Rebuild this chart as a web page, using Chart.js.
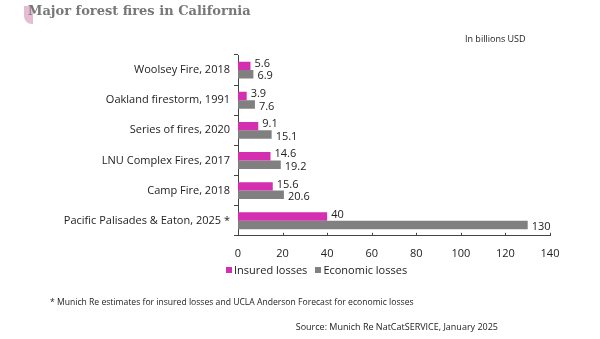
<!DOCTYPE html>
<html>
<head>
<meta charset="utf-8">
<script src="https://cdn.jsdelivr.net/npm/chart.js@4"></script>
<style>
  html, body { margin: 0; padding: 0; background: #fff; }
  #wrap { position: relative; width: 600px; height: 339px; overflow: hidden; font-family: "Open Sans", sans-serif; }
  #fires { position: absolute; left: 0; top: 0; }
  .txt { position: absolute; white-space: nowrap; color: #222; }
  #title { left: 28px; top: 3px; font-family: "DejaVu Serif", serif; font-weight: bold; font-size: 13px; color: #777; }
  #deco { position: absolute; left: 24px; top: 6px; width: 9px; height: 18px; background: #e6bcd5; border-radius: 0 0 0 8px; }
  #unit { left: 465px; top: 32px; font-size: 9px; }
  #note { left: 50px; top: 296px; font-size: 8.6px; }
  #source { right: 102px; top: 320px; font-size: 9px; }
  #legend { left: 226px; top: 262px; font-size: 11px; }
  #legend span.box { display: inline-block; width: 6px; height: 6px; margin-right: 2px; vertical-align: 1px; }
  #legend span.item { margin-right: 8px; }
</style>
</head>
<body>
<div id="wrap">
  <canvas id="fires" width="600" height="339"></canvas>
  <div id="deco"></div>
  <div class="txt" id="title">Major forest fires in California</div>
  <div class="txt" id="unit">In billions USD</div>
  <div class="txt" id="legend"></div>
  <div class="txt" id="note">* Munich Re estimates for insured losses and UCLA Anderson Forecast for economic losses</div>
  <div class="txt" id="source">Source: Munich Re NatCatSERVICE, January 2025</div>
</div>
<script>
// Données
const fires = ['Woolsey Fire, 2018', 'Oakland firestorm, 1991', 'Series of fires, 2020',
               'LNU Complex Fires, 2017', 'Camp Fire, 2018', 'Pacific Palisades & Eaton, 2025 *'];
const insuredLosses = [5.6, 3.9, 9.1, 14.6, 15.6, 40];
const economicLosses = [6.9, 7.6, 15.1, 19.2, 20.6, 130];
const xTicks = [0, 20, 40, 60, 80, 100, 120, 140];

const PINK = '#d42fb0';
const GREY = '#808080';

// valeurs au bout des barres
const valueLabels = {
    id: 'valueLabels',
    afterDatasetsDraw(chart) {
        const ctx = chart.ctx;
        ctx.save();
        ctx.font = '11px "Open Sans", sans-serif';
        ctx.fillStyle = '#222';
        ctx.textBaseline = 'middle';
        chart.data.datasets.forEach((ds, i) => {
            chart.getDatasetMeta(i).data.forEach((bar, j) => {
                const dy = i === 0 ? -2 : 2;
                ctx.fillText(String(ds.data[j]), bar.x + 4, bar.y + dy);
            });
        });
        ctx.restore();
    }
};

// petits traits sur l'axe des x
const xTickMarks = {
    id: 'xTickMarks',
    afterDraw(chart) {
        const ctx = chart.ctx;
        const xs = chart.scales.x;
        const bottom = chart.chartArea.bottom;
        ctx.save();
        ctx.strokeStyle = '#444';
        ctx.lineWidth = 1;
        xTicks.forEach(v => {
            const px = Math.round(xs.getPixelForValue(v)) + 0.5;
            ctx.beginPath();
            ctx.moveTo(px, bottom);
            ctx.lineTo(px, bottom - 3);
            ctx.stroke();
        });
        ctx.restore();
    }
};

const ctx = document.getElementById('fires').getContext('2d');
const chart = new Chart(ctx, {
    type: 'bar',
    data: {
        labels: fires,
        datasets: [
            { label: 'Insured losses', data: insuredLosses, backgroundColor: PINK },
            { label: 'Economic losses', data: economicLosses, backgroundColor: GREY }
        ]
    },
    options: {
        indexAxis: 'y',
        responsive: false,
        animation: false,
        datasets: { bar: { barPercentage: 1, categoryPercentage: 0.56 } },
        layout: { padding: { top: 55, right: 50, bottom: 76, left: 0 } },
        scales: {
            x: {
                min: 0, max: 140,
                afterBuildTicks: axis => { axis.ticks = xTicks.map(v => ({ value: v })); },
                grid: { display: false },
                border: { display: true, color: '#444', width: 1 },
                ticks: { color: '#222', font: { family: '"Open Sans", sans-serif', size: 11 }, padding: 3 }
            },
            y: {
                afterFit: axis => { axis.width = 238; },
                grid: { display: true, offset: true, drawOnChartArea: false, drawTicks: true, tickLength: 4, color: '#444' },
                border: { display: true, color: '#444', width: 1 },
                ticks: { color: '#222', font: { family: '"Open Sans", sans-serif', size: 11 }, padding: 4 }
            }
        },
        plugins: {
            legend: { display: false },
            tooltip: { enabled: false }
        }
    },
    plugins: [valueLabels, xTickMarks]
});

// légende en HTML
document.getElementById('legend').innerHTML = chart.data.datasets.map(ds =>
    '<span class="item"><span class="box" style="background:' + ds.backgroundColor + '"></span>' + ds.label + '</span>'
).join('');
</script>
</body>
</html>
